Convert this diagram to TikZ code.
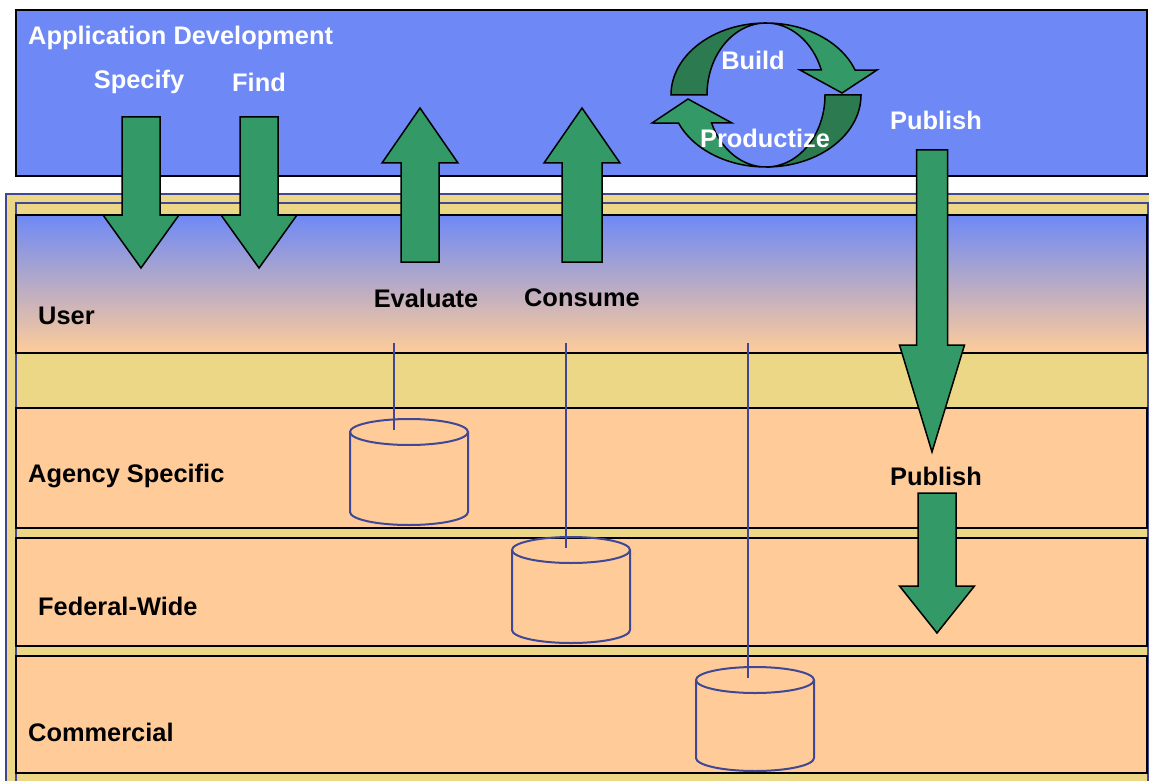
\documentclass[tikz,border=0pt]{standalone}
\usepackage{fontspec}
\setmainfont{Liberation Sans}

\definecolor{appblue}{RGB}{110,137,245}
\definecolor{peach}{RGB}{255,204,153}
\definecolor{sand}{RGB}{235,215,133}
\definecolor{frameblue}{RGB}{64,72,150}
\definecolor{arrowgreen}{RGB}{51,153,102}
\definecolor{backgreen}{RGB}{44,122,80}

% x centre, tail y, head base y, tip y, half shaft, half head
\newcommand{\greenarrow}[6]{%
  \draw[arrowbody] ({#1-#5},#2) -- ({#1+#5},#2) -- ({#1+#5},#3) -- ({#1+#6},#3)
    -- (#1,#4) -- ({#1-#6},#3) -- ({#1-#5},#3) -- cycle;}

% name, x centre, top y, bottom y
\newcommand{\storedrum}[4]{%
  \coordinate (#1) at (#2,#3);
  \draw[drum] ({#2-59},#3) -- ({#2-59},#4)
    arc[start angle=180, end angle=0, x radius=59, y radius=13] -- ({#2+59},#3);
  \draw[drum] (#1) ellipse[x radius=59, y radius=13];}

\begin{document}
\begin{tikzpicture}[x=1pt, y=-1pt, font=\fontsize{25.4}{30}\selectfont\bfseries]
    \tikzstyle{band} = [draw, line width=2pt, fill=peach]
    \tikzstyle{arrowbody} = [draw, line width=1.5pt, fill=arrowgreen]
    \tikzstyle{ribbon} = [draw, line width=1.5pt]
    \tikzstyle{drum} = [draw=frameblue, line width=2pt]
    \tikzstyle{feed} = [frameblue, line width=2pt]
    \tikzstyle{whitelabel} = [white, inner sep=0pt]
    \tikzstyle{blacklabel} = [black, inner sep=0pt]

	\useasboundingbox (0,0) rectangle (1149,781);
	\fill[white] (0,0) rectangle (1149,781);

	% layers
	\draw[frameblue, line width=2pt, fill=sand] (6,194) rectangle (1160,795);
	\draw[frameblue, line width=2pt] (16,203) rectangle (1148,795);
	\draw[line width=2pt, fill=appblue] (16,10) rectangle (1147,176);
	\draw[line width=2pt, top color=appblue, bottom color=peach] (16,215) rectangle (1147,353);
	\draw[band] (16,408) rectangle (1147,528);
	\draw[band] (16,538) rectangle (1147,646);
	\draw[band] (16,656) rectangle (1147,773);

	% stores
	\storedrum{agencydb}{409}{432}{512}
	\storedrum{federaldb}{571}{550}{630}
	\storedrum{commercialdb}{755}{680}{758}

	\coordinate (tap1) at (394,343);
	\coordinate (tap2) at (566,343);
	\coordinate (tap3) at (748,343);
	\coordinate (drop1) at (394,430);
	\coordinate (drop2) at (566,548);
	\coordinate (drop3) at (748,678);
	\draw[feed] (tap1) -- (drop1);
	\draw[feed] (tap2) -- (drop2);
	\draw[feed] (tap3) -- (drop3);

	% arrows
	\greenarrow{141}{117}{215}{268}{19}{38}
	\greenarrow{259}{117}{215}{268}{19}{38}
	\greenarrow{420}{262}{163}{108}{19}{38}
	\greenarrow{582}{262}{163}{108}{20}{38}
	\greenarrow{932}{150}{345}{452}{15.5}{32.5}
	\greenarrow{937}{493}{586}{633}{19}{37.5}

	% cycle
	\draw[ribbon, fill=backgreen] (671,95)
		arc[start angle=180, end angle=270, x radius=95, y radius=72]
		arc[start angle=270, end angle=180, x radius=59, y radius=72] -- cycle;
	\draw[ribbon, fill=arrowgreen] (766,23)
		arc[start angle=270, end angle=339.7, x radius=95, y radius=72]
		-- (877,70) -- (842,93) -- (800,70) -- (821.3,70)
		arc[start angle=339.7, end angle=270, x radius=59, y radius=72] -- cycle;
	\draw[ribbon, fill=backgreen] (861,95)
		arc[start angle=0, end angle=90, x radius=95, y radius=72]
		arc[start angle=90, end angle=0, x radius=59, y radius=72] -- cycle;
	\draw[ribbon, fill=arrowgreen] (766,167)
		arc[start angle=90, end angle=157.1, x radius=95, y radius=72]
		-- (652,123) -- (688,99) -- (732,123) -- (711.6,123)
		arc[start angle=157.1, end angle=90, x radius=59, y radius=72] -- cycle;

	% labels
	\node[whitelabel, anchor=west] (appdev) at (28,38) {Application Development};
	\node[whitelabel] (specify) at (139,82) {Specify};
	\node[whitelabel] (find) at (259,82) {Find};
	\node[whitelabel] (build) at (753,60) {Build};
	\node[whitelabel] (productize) at (765,138) {Productize};
	\node[whitelabel] (publishtop) at (936,120) {Publish};
	\node[blacklabel] (evaluate) at (426,298) {Evaluate};
	\node[blacklabel] (consume) at (582,298) {Consume};
	\node[blacklabel, anchor=west] (user) at (38,316) {User};
	\node[blacklabel, anchor=west] (agency) at (28,476) {Agency Specific};
	\node[blacklabel, anchor=west] (federal) at (38,606) {Federal-Wide};
	\node[blacklabel, anchor=west] (commercial) at (28,732) {Commercial};
	\node[blacklabel] (publishmid) at (936,476) {Publish};
\end{tikzpicture}
\end{document}
